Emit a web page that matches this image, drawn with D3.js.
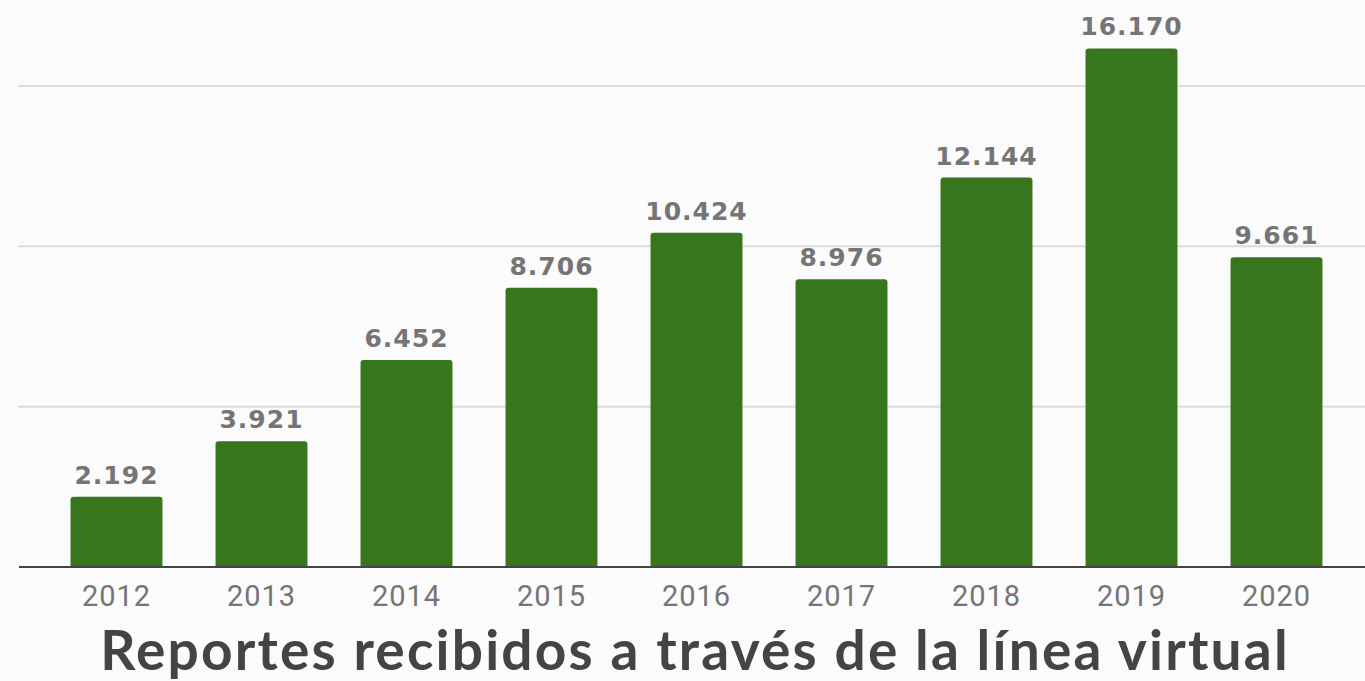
<!DOCTYPE html>
<html>
<head>
<meta charset="utf-8">
<script src="https://cdn.jsdelivr.net/npm/d3@7"></script>
<style>
  html, body { margin: 0; padding: 0; background: #fbfbfb; }
  svg { display: block; }
</style>
</head>
<body>
<svg id="chart" width="1365" height="681"></svg>
<script>
// Data
const years = ["2012", "2013", "2014", "2015", "2016", "2017", "2018", "2019", "2020"];
const reports = [2192, 3921, 6452, 8706, 10424, 8976, 12144, 16170, 9661];
const gridValues = [5000, 10000, 15000];
const title = "Reportes recibidos a través de la línea virtual";

const svg = d3.select("#chart");
const width = 1365;
const baseY = 567;

// Scales
let x = d3.scaleBand()
	.domain(years)
	.range([44, 1349])
	.paddingInner(0.366)
	.paddingOuter(0.183);

let y = d3.scaleLinear()
	.domain([0, 15000])
	.range([baseY, 86]);

// es-style thousands separator
const fmt = d3.formatLocale({ decimal: ",", thousands: ".", grouping: [3], currency: ["", ""] }).format(",d");

// Gridlines
svg.append("g")
	.selectAll("line")
	.data(gridValues)
	.enter()
	.append("line")
		.attr("x1", 18)
		.attr("x2", width)
		.attr("y1", d => y(d))
		.attr("y2", d => y(d))
		.attr("stroke", "#dcdcdc")
		.attr("stroke-width", 2);

// Bars (rounded top corners only)
function barPath(d, i) {
	let x0 = x(years[i]), w = x.bandwidth();
	let y0 = y(d), r = 3;
	return `M${x0},${baseY} V${y0 + r} Q${x0},${y0} ${x0 + r},${y0} H${x0 + w - r} Q${x0 + w},${y0} ${x0 + w},${y0 + r} V${baseY} Z`;
}

svg.append("g")
	.selectAll("path")
	.data(reports)
	.enter()
	.append("path")
		.attr("d", barPath)
		.attr("fill", "#38761d");

// Value labels
svg.append("g")
	.selectAll("text")
	.data(reports)
	.enter()
	.append("text")
		.attr("x", (d, i) => x(years[i]) + x.bandwidth() / 2)
		.attr("y", d => y(d) - 13)
		.attr("text-anchor", "middle")
		.style("font-family", "'DejaVu Sans', Verdana, sans-serif")
		.style("font-weight", "bold")
		.style("font-size", "25px")
		.style("letter-spacing", "1px")
		.style("fill", "#757575")
		.text(d => fmt(d));

// x-axis
let xAxis = svg.append("g")
	.attr("transform", "translate(0," + baseY + ")")
	.call(d3.axisBottom(x).tickSize(0).tickPadding(18));

xAxis.select(".domain").remove();
xAxis.selectAll("text")
	.style("font-family", "Roboto, sans-serif")
	.style("font-size", "29px")
	.style("letter-spacing", "1px")
	.style("fill", "#757575");

svg.append("line")
	.attr("x1", 19)
	.attr("x2", width)
	.attr("y1", baseY)
	.attr("y2", baseY)
	.attr("stroke", "#444")
	.attr("stroke-width", 2);

// Title
svg.append("text")
	.attr("x", 695)
	.attr("y", 670)
	.attr("text-anchor", "middle")
	.style("font-family", "Lato, sans-serif")
	.style("font-weight", "bold")
	.style("font-size", "55px")
	.style("letter-spacing", "2.2px")
	.style("fill", "#444")
	.text(title);
</script>
</body>
</html>
